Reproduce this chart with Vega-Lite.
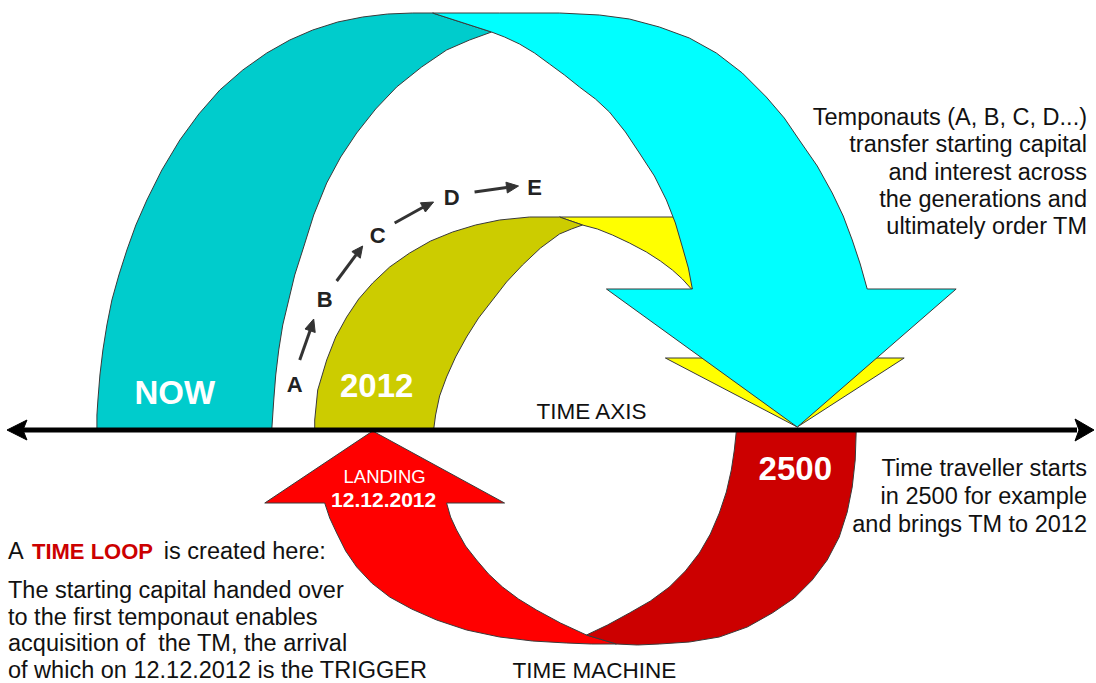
{
  "$schema": "https://vega.github.io/schema/vega-lite/v6.json",
  "width": 1096,
  "height": 683,
  "padding": 0,
  "autosize": {"type": "fit", "contains": "padding"},
  "background": "white",
  "config": {"view": {"stroke": null}},
  "datasets": {
    "poly": [
      {"s": "teal", "i": 0, "x": 97, "y": 430},
      {"s": "teal", "i": 1, "x": 97, "y": 415},
      {"s": "teal", "i": 2, "x": 98, "y": 400},
      {"s": "teal", "i": 3, "x": 100, "y": 375},
      {"s": "teal", "i": 4, "x": 103, "y": 350},
      {"s": "teal", "i": 5, "x": 107, "y": 325},
      {"s": "teal", "i": 6, "x": 112, "y": 300},
      {"s": "teal", "i": 7, "x": 119, "y": 275},
      {"s": "teal", "i": 8, "x": 127, "y": 250},
      {"s": "teal", "i": 9, "x": 136, "y": 225},
      {"s": "teal", "i": 10, "x": 147, "y": 200},
      {"s": "teal", "i": 11, "x": 162, "y": 170},
      {"s": "teal", "i": 12, "x": 180, "y": 140},
      {"s": "teal", "i": 13, "x": 199, "y": 114},
      {"s": "teal", "i": 14, "x": 220, "y": 90},
      {"s": "teal", "i": 15, "x": 243, "y": 70},
      {"s": "teal", "i": 16, "x": 267, "y": 53},
      {"s": "teal", "i": 17, "x": 290, "y": 40},
      {"s": "teal", "i": 18, "x": 313, "y": 30},
      {"s": "teal", "i": 19, "x": 338, "y": 22},
      {"s": "teal", "i": 20, "x": 363, "y": 17},
      {"s": "teal", "i": 21, "x": 388, "y": 14},
      {"s": "teal", "i": 22, "x": 413, "y": 13},
      {"s": "teal", "i": 23, "x": 433, "y": 13},
      {"s": "teal", "i": 24, "x": 492, "y": 32},
      {"s": "teal", "i": 25, "x": 470, "y": 40},
      {"s": "teal", "i": 26, "x": 447, "y": 50},
      {"s": "teal", "i": 27, "x": 422, "y": 67},
      {"s": "teal", "i": 28, "x": 397, "y": 87},
      {"s": "teal", "i": 29, "x": 376, "y": 109},
      {"s": "teal", "i": 30, "x": 357, "y": 133},
      {"s": "teal", "i": 31, "x": 341, "y": 157},
      {"s": "teal", "i": 32, "x": 327, "y": 183},
      {"s": "teal", "i": 33, "x": 314, "y": 215},
      {"s": "teal", "i": 34, "x": 303, "y": 250},
      {"s": "teal", "i": 35, "x": 295, "y": 275},
      {"s": "teal", "i": 36, "x": 289, "y": 300},
      {"s": "teal", "i": 37, "x": 283, "y": 325},
      {"s": "teal", "i": 38, "x": 279, "y": 350},
      {"s": "teal", "i": 39, "x": 276, "y": 375},
      {"s": "teal", "i": 40, "x": 274, "y": 400},
      {"s": "teal", "i": 41, "x": 272, "y": 430},

      {"s": "cyan", "i": 0, "x": 433, "y": 13},
      {"s": "cyan", "i": 1, "x": 500, "y": 13},
      {"s": "cyan", "i": 2, "x": 560, "y": 13},
      {"s": "cyan", "i": 3, "x": 600, "y": 15},
      {"s": "cyan", "i": 4, "x": 630, "y": 19},
      {"s": "cyan", "i": 5, "x": 660, "y": 27},
      {"s": "cyan", "i": 6, "x": 690, "y": 38},
      {"s": "cyan", "i": 7, "x": 717, "y": 53},
      {"s": "cyan", "i": 8, "x": 743, "y": 73},
      {"s": "cyan", "i": 9, "x": 767, "y": 97},
      {"s": "cyan", "i": 10, "x": 785, "y": 118},
      {"s": "cyan", "i": 11, "x": 800, "y": 140},
      {"s": "cyan", "i": 12, "x": 818, "y": 166},
      {"s": "cyan", "i": 13, "x": 833, "y": 193},
      {"s": "cyan", "i": 14, "x": 844, "y": 216},
      {"s": "cyan", "i": 15, "x": 853, "y": 240},
      {"s": "cyan", "i": 16, "x": 861, "y": 264},
      {"s": "cyan", "i": 17, "x": 868, "y": 289},
      {"s": "cyan", "i": 18, "x": 957, "y": 289},
      {"s": "cyan", "i": 19, "x": 798, "y": 427},
      {"s": "cyan", "i": 20, "x": 607, "y": 289},
      {"s": "cyan", "i": 21, "x": 693, "y": 289},
      {"s": "cyan", "i": 22, "x": 689, "y": 268},
      {"s": "cyan", "i": 23, "x": 683, "y": 247},
      {"s": "cyan", "i": 24, "x": 676, "y": 223},
      {"s": "cyan", "i": 25, "x": 667, "y": 200},
      {"s": "cyan", "i": 26, "x": 655, "y": 176},
      {"s": "cyan", "i": 27, "x": 640, "y": 153},
      {"s": "cyan", "i": 28, "x": 626, "y": 132},
      {"s": "cyan", "i": 29, "x": 610, "y": 112},
      {"s": "cyan", "i": 30, "x": 596, "y": 99},
      {"s": "cyan", "i": 31, "x": 580, "y": 87},
      {"s": "cyan", "i": 32, "x": 565, "y": 75},
      {"s": "cyan", "i": 33, "x": 550, "y": 64},
      {"s": "cyan", "i": 34, "x": 535, "y": 53},
      {"s": "cyan", "i": 35, "x": 520, "y": 44},
      {"s": "cyan", "i": 36, "x": 505, "y": 37},
      {"s": "cyan", "i": 37, "x": 492, "y": 32},

      {"s": "yhead", "i": 0, "x": 666, "y": 358},
      {"s": "yhead", "i": 1, "x": 905, "y": 358},
      {"s": "yhead", "i": 2, "x": 798, "y": 427},

      {"s": "yshaft", "i": 0, "x": 560, "y": 217},
      {"s": "yshaft", "i": 1, "x": 700, "y": 217},
      {"s": "yshaft", "i": 2, "x": 720, "y": 270},
      {"s": "yshaft", "i": 3, "x": 692, "y": 289},
      {"s": "yshaft", "i": 4, "x": 683, "y": 279},
      {"s": "yshaft", "i": 5, "x": 673, "y": 270},
      {"s": "yshaft", "i": 6, "x": 661, "y": 261},
      {"s": "yshaft", "i": 7, "x": 647, "y": 252},
      {"s": "yshaft", "i": 8, "x": 630, "y": 243},
      {"s": "yshaft", "i": 9, "x": 613, "y": 235},
      {"s": "yshaft", "i": 10, "x": 598, "y": 229},
      {"s": "yshaft", "i": 11, "x": 583, "y": 225},

      {"s": "olive", "i": 0, "x": 315, "y": 430},
      {"s": "olive", "i": 1, "x": 315, "y": 420},
      {"s": "olive", "i": 2, "x": 318, "y": 390},
      {"s": "olive", "i": 3, "x": 327, "y": 360},
      {"s": "olive", "i": 4, "x": 336, "y": 337},
      {"s": "olive", "i": 5, "x": 347, "y": 317},
      {"s": "olive", "i": 6, "x": 359, "y": 299},
      {"s": "olive", "i": 7, "x": 373, "y": 283},
      {"s": "olive", "i": 8, "x": 390, "y": 267},
      {"s": "olive", "i": 9, "x": 410, "y": 253},
      {"s": "olive", "i": 10, "x": 431, "y": 241},
      {"s": "olive", "i": 11, "x": 453, "y": 232},
      {"s": "olive", "i": 12, "x": 476, "y": 225},
      {"s": "olive", "i": 13, "x": 500, "y": 220},
      {"s": "olive", "i": 14, "x": 530, "y": 217},
      {"s": "olive", "i": 15, "x": 560, "y": 217},
      {"s": "olive", "i": 16, "x": 583, "y": 225},
      {"s": "olive", "i": 17, "x": 572, "y": 229},
      {"s": "olive", "i": 18, "x": 560, "y": 234},
      {"s": "olive", "i": 19, "x": 541, "y": 248},
      {"s": "olive", "i": 20, "x": 523, "y": 265},
      {"s": "olive", "i": 21, "x": 507, "y": 282},
      {"s": "olive", "i": 22, "x": 493, "y": 300},
      {"s": "olive", "i": 23, "x": 479, "y": 318},
      {"s": "olive", "i": 24, "x": 467, "y": 337},
      {"s": "olive", "i": 25, "x": 456, "y": 357},
      {"s": "olive", "i": 26, "x": 447, "y": 377},
      {"s": "olive", "i": 27, "x": 440, "y": 396},
      {"s": "olive", "i": 28, "x": 436, "y": 415},
      {"s": "olive", "i": 29, "x": 434, "y": 430},

      {"s": "red", "i": 0, "x": 373, "y": 431},
      {"s": "red", "i": 1, "x": 505, "y": 503},
      {"s": "red", "i": 2, "x": 447, "y": 503},
      {"s": "red", "i": 3, "x": 451, "y": 517},
      {"s": "red", "i": 4, "x": 457, "y": 530},
      {"s": "red", "i": 5, "x": 466, "y": 546},
      {"s": "red", "i": 6, "x": 477, "y": 560},
      {"s": "red", "i": 7, "x": 489, "y": 574},
      {"s": "red", "i": 8, "x": 503, "y": 587},
      {"s": "red", "i": 9, "x": 519, "y": 599},
      {"s": "red", "i": 10, "x": 537, "y": 610},
      {"s": "red", "i": 11, "x": 561, "y": 623},
      {"s": "red", "i": 12, "x": 587, "y": 635},
      {"s": "red", "i": 13, "x": 617, "y": 644},
      {"s": "red", "i": 14, "x": 592, "y": 644},
      {"s": "red", "i": 15, "x": 567, "y": 643},
      {"s": "red", "i": 16, "x": 533, "y": 641},
      {"s": "red", "i": 17, "x": 500, "y": 637},
      {"s": "red", "i": 18, "x": 467, "y": 630},
      {"s": "red", "i": 19, "x": 437, "y": 620},
      {"s": "red", "i": 20, "x": 412, "y": 609},
      {"s": "red", "i": 21, "x": 390, "y": 597},
      {"s": "red", "i": 22, "x": 372, "y": 583},
      {"s": "red", "i": 23, "x": 357, "y": 567},
      {"s": "red", "i": 24, "x": 346, "y": 551},
      {"s": "red", "i": 25, "x": 337, "y": 533},
      {"s": "red", "i": 26, "x": 330, "y": 518},
      {"s": "red", "i": 27, "x": 325, "y": 503},
      {"s": "red", "i": 28, "x": 265, "y": 503},

      {"s": "dred", "i": 0, "x": 737, "y": 431},
      {"s": "dred", "i": 1, "x": 857, "y": 431},
      {"s": "dred", "i": 2, "x": 856, "y": 460},
      {"s": "dred", "i": 3, "x": 853, "y": 487},
      {"s": "dred", "i": 4, "x": 848, "y": 512},
      {"s": "dred", "i": 5, "x": 840, "y": 537},
      {"s": "dred", "i": 6, "x": 828, "y": 560},
      {"s": "dred", "i": 7, "x": 813, "y": 580},
      {"s": "dred", "i": 8, "x": 795, "y": 598},
      {"s": "dred", "i": 9, "x": 773, "y": 613},
      {"s": "dred", "i": 10, "x": 748, "y": 627},
      {"s": "dred", "i": 11, "x": 720, "y": 637},
      {"s": "dred", "i": 12, "x": 690, "y": 642},
      {"s": "dred", "i": 13, "x": 660, "y": 644},
      {"s": "dred", "i": 14, "x": 638, "y": 645},
      {"s": "dred", "i": 15, "x": 617, "y": 644},
      {"s": "dred", "i": 16, "x": 587, "y": 635},
      {"s": "dred", "i": 17, "x": 608, "y": 625},
      {"s": "dred", "i": 18, "x": 630, "y": 613},
      {"s": "dred", "i": 19, "x": 651, "y": 601},
      {"s": "dred", "i": 20, "x": 670, "y": 587},
      {"s": "dred", "i": 21, "x": 686, "y": 571},
      {"s": "dred", "i": 22, "x": 700, "y": 553},
      {"s": "dred", "i": 23, "x": 711, "y": 534},
      {"s": "dred", "i": 24, "x": 720, "y": 513},
      {"s": "dred", "i": 25, "x": 727, "y": 492},
      {"s": "dred", "i": 26, "x": 732, "y": 470},
      {"s": "dred", "i": 27, "x": 735, "y": 450},

      {"s": "axl", "i": 0, "x": 7, "y": 430},
      {"s": "axl", "i": 1, "x": 27, "y": 420},
      {"s": "axl", "i": 2, "x": 23, "y": 430},
      {"s": "axl", "i": 3, "x": 27, "y": 440},
      {"s": "axr", "i": 0, "x": 1095, "y": 430},
      {"s": "axr", "i": 1, "x": 1076, "y": 419},
      {"s": "axr", "i": 2, "x": 1080, "y": 430},
      {"s": "axr", "i": 3, "x": 1076, "y": 441},

      {"s": "h1", "i": 0, "x": 314, "y": 319},
      {"s": "h1", "i": 1, "x": 315.5, "y": 332.5},
      {"s": "h1", "i": 2, "x": 305.3, "y": 329},
      {"s": "h2", "i": 0, "x": 363, "y": 246},
      {"s": "h2", "i": 1, "x": 360.6, "y": 258.2},
      {"s": "h2", "i": 2, "x": 352.2, "y": 251.6},
      {"s": "h3", "i": 0, "x": 434, "y": 202},
      {"s": "h3", "i": 1, "x": 425.8, "y": 212},
      {"s": "h3", "i": 2, "x": 420.8, "y": 202.8},
      {"s": "h4", "i": 0, "x": 519, "y": 186},
      {"s": "h4", "i": 1, "x": 507.8, "y": 193},
      {"s": "h4", "i": 2, "x": 506.4, "y": 182.2}
    ],
    "seg": [
      {"g": "axis", "x": 22, "y": 430, "x2": 1078, "y2": 430},
      {"g": "arr", "x": 300, "y": 360, "x2": 310.4, "y2": 330.4},
      {"g": "arr", "x": 337, "y": 281, "x2": 356.4, "y2": 254.8},
      {"g": "arr", "x": 395, "y": 223, "x2": 423.4, "y2": 207.3},
      {"g": "arr", "x": 475, "y": 192, "x2": 507.1, "y2": 187.5}
    ],
    "txt": [
      {"g": "big", "t": "NOW", "x": 175, "y": 404},
      {"g": "big", "t": "2012", "x": 377, "y": 397},
      {"g": "big", "t": "2500", "x": 796, "y": 480},
      {"g": "let", "t": "A", "x": 295, "y": 392},
      {"g": "let", "t": "B", "x": 325, "y": 307},
      {"g": "let", "t": "C", "x": 378, "y": 243},
      {"g": "let", "t": "D", "x": 452, "y": 205},
      {"g": "let", "t": "E", "x": 535, "y": 195},
      {"g": "right", "t": "Temponauts (A, B, C, D...)", "x": 1088, "y": 125},
      {"g": "right", "t": "transfer starting capital", "x": 1088, "y": 152},
      {"g": "right", "t": "and interest across", "x": 1088, "y": 180},
      {"g": "right", "t": "the generations and", "x": 1088, "y": 207},
      {"g": "right", "t": "ultimately order TM", "x": 1088, "y": 234},
      {"g": "right", "t": "Time traveller starts", "x": 1088, "y": 476},
      {"g": "right", "t": "in 2500 for example", "x": 1088, "y": 504},
      {"g": "right", "t": "and brings TM to 2012", "x": 1088, "y": 532},
      {"g": "left", "t": "A", "x": 8, "y": 559},
      {"g": "left", "t": "is created here:", "x": 164, "y": 559},
      {"g": "left", "t": "The starting capital handed over", "x": 8, "y": 598},
      {"g": "left", "t": "to the first temponaut enables", "x": 8, "y": 625},
      {"g": "left", "t": "acquisition of\u00a0 the TM, the arrival", "x": 8, "y": 651},
      {"g": "left", "t": "of which on 12.12.2012 is the TRIGGER", "x": 8, "y": 678},
      {"g": "loop", "t": "TIME LOOP", "x": 32, "y": 559},
      {"g": "mid", "t": "TIME AXIS", "x": 592, "y": 419},
      {"g": "mid", "t": "TIME MACHINE", "x": 595, "y": 678},
      {"g": "land", "t": "LANDING", "x": 385, "y": 483},
      {"g": "date", "t": "12.12.2012", "x": 384, "y": 507}
    ]
  },
  "encoding": {
    "x": {"field": "x", "type": "quantitative", "scale": {"domain": [0, 1096], "nice": false, "zero": false}, "axis": null},
    "y": {"field": "y", "type": "quantitative", "scale": {"domain": [0, 683], "reverse": true, "nice": false, "zero": false}, "axis": null}
  },
  "layer": [
    {"data": {"name": "poly"}, "transform": [{"filter": "datum.s === 'yhead'"}],
     "mark": {"type": "line", "interpolate": "linear-closed", "fill": "#FFFF00", "stroke": "#3a3a3a", "strokeWidth": 1},
     "encoding": {"order": {"field": "i", "type": "quantitative"}}},
    {"data": {"name": "poly"}, "transform": [{"filter": "datum.s === 'yshaft'"}],
     "mark": {"type": "line", "interpolate": "linear-closed", "fill": "#FFFF00", "stroke": "#3a3a3a", "strokeWidth": 1},
     "encoding": {"order": {"field": "i", "type": "quantitative"}}},
    {"data": {"name": "poly"}, "transform": [{"filter": "datum.s === 'olive'"}],
     "mark": {"type": "line", "interpolate": "linear-closed", "fill": "#CCCC00", "stroke": "#3a3a3a", "strokeWidth": 1},
     "encoding": {"order": {"field": "i", "type": "quantitative"}}},
    {"data": {"name": "poly"}, "transform": [{"filter": "datum.s === 'teal'"}],
     "mark": {"type": "line", "interpolate": "linear-closed", "fill": "#00CCCC", "stroke": "#3a3a3a", "strokeWidth": 1},
     "encoding": {"order": {"field": "i", "type": "quantitative"}}},
    {"data": {"name": "poly"}, "transform": [{"filter": "datum.s === 'cyan'"}],
     "mark": {"type": "line", "interpolate": "linear-closed", "fill": "#00FFFF", "stroke": "#3a3a3a", "strokeWidth": 1},
     "encoding": {"order": {"field": "i", "type": "quantitative"}}},
    {"data": {"name": "poly"}, "transform": [{"filter": "datum.s === 'red'"}],
     "mark": {"type": "line", "interpolate": "linear-closed", "fill": "#FF0000", "stroke": "#3a3a3a", "strokeWidth": 1},
     "encoding": {"order": {"field": "i", "type": "quantitative"}}},
    {"data": {"name": "poly"}, "transform": [{"filter": "datum.s === 'dred'"}],
     "mark": {"type": "line", "interpolate": "linear-closed", "fill": "#CC0000", "stroke": "#3a3a3a", "strokeWidth": 1},
     "encoding": {"order": {"field": "i", "type": "quantitative"}}},
    {"data": {"name": "seg"}, "transform": [{"filter": "datum.g === 'axis'"}],
     "mark": {"type": "rule", "color": "#000000", "strokeWidth": 5},
     "encoding": {"x2": {"field": "x2"}, "y2": {"field": "y2"}}},
    {"data": {"name": "poly"}, "transform": [{"filter": "datum.s === 'axl' || datum.s === 'axr'"}],
     "mark": {"type": "line", "interpolate": "linear-closed", "fill": "#000000", "stroke": "#000000", "strokeWidth": 1},
     "encoding": {"order": {"field": "i", "type": "quantitative"}, "detail": {"field": "s"}}},
    {"data": {"name": "seg"}, "transform": [{"filter": "datum.g === 'arr'"}],
     "mark": {"type": "rule", "color": "#333333", "strokeWidth": 3},
     "encoding": {"x2": {"field": "x2"}, "y2": {"field": "y2"}}},
    {"data": {"name": "poly"}, "transform": [{"filter": "indexof(['h1','h2','h3','h4'], datum.s) >= 0"}],
     "mark": {"type": "line", "interpolate": "linear-closed", "fill": "#333333", "stroke": "#333333", "strokeWidth": 1},
     "encoding": {"order": {"field": "i", "type": "quantitative"}, "detail": {"field": "s"}}},
    {"data": {"name": "txt"}, "transform": [{"filter": "datum.g === 'big'"}],
     "mark": {"type": "text", "align": "center", "baseline": "alphabetic", "font": "Liberation Sans", "fontSize": 33, "fontWeight": "bold", "fill": "#FFFFFF"},
     "encoding": {"text": {"field": "t"}}},
    {"data": {"name": "txt"}, "transform": [{"filter": "datum.g === 'let'"}],
     "mark": {"type": "text", "align": "center", "baseline": "alphabetic", "font": "Liberation Sans", "fontSize": 22, "fontWeight": "bold", "fill": "#222222"},
     "encoding": {"text": {"field": "t"}}},
    {"data": {"name": "txt"}, "transform": [{"filter": "datum.g === 'right'"}],
     "mark": {"type": "text", "align": "right", "baseline": "alphabetic", "font": "Liberation Sans", "fontSize": 23.5, "fill": "#111111"},
     "encoding": {"text": {"field": "t"}}},
    {"data": {"name": "txt"}, "transform": [{"filter": "datum.g === 'left'"}],
     "mark": {"type": "text", "align": "left", "baseline": "alphabetic", "font": "Liberation Sans", "fontSize": 23.5, "fill": "#111111"},
     "encoding": {"text": {"field": "t"}}},
    {"data": {"name": "txt"}, "transform": [{"filter": "datum.g === 'loop'"}],
     "mark": {"type": "text", "align": "left", "baseline": "alphabetic", "font": "Liberation Sans", "fontSize": 22, "fontWeight": "bold", "fill": "#CC0000"},
     "encoding": {"text": {"field": "t"}}},
    {"data": {"name": "txt"}, "transform": [{"filter": "datum.g === 'mid'"}],
     "mark": {"type": "text", "align": "center", "baseline": "alphabetic", "font": "Liberation Sans", "fontSize": 22.5, "fill": "#111111"},
     "encoding": {"text": {"field": "t"}}},
    {"data": {"name": "txt"}, "transform": [{"filter": "datum.g === 'land'"}],
     "mark": {"type": "text", "align": "center", "baseline": "alphabetic", "font": "Liberation Sans", "fontSize": 18.5, "fill": "#FFFFFF"},
     "encoding": {"text": {"field": "t"}}},
    {"data": {"name": "txt"}, "transform": [{"filter": "datum.g === 'date'"}],
     "mark": {"type": "text", "align": "center", "baseline": "alphabetic", "font": "Liberation Sans", "fontSize": 21, "fontWeight": "bold", "fill": "#FFFFFF"},
     "encoding": {"text": {"field": "t"}}}
  ]
}
